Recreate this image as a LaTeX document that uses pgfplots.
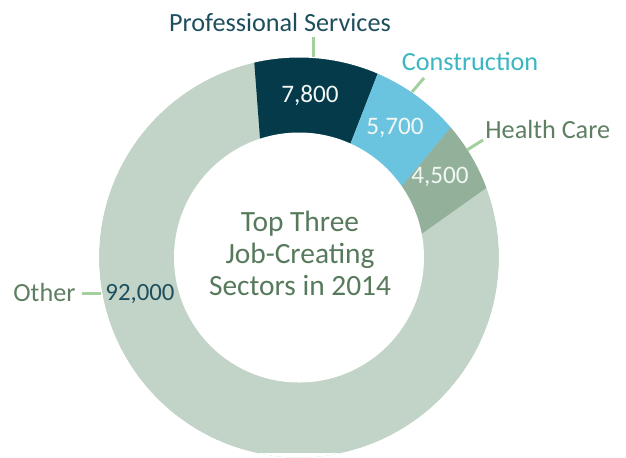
\documentclass[border=0pt]{standalone}
\usepackage{pgfplots}
\pgfplotsset{compat=1.18}
\usepackage{fontspec}
\setmainfont{Carlito}
\definecolor{cProf}{HTML}{053A4B}
\definecolor{cCons}{HTML}{6AC4E0}
\definecolor{cHealth}{HTML}{93B09A}
\definecolor{cOther}{HTML}{C2D4C7}
\definecolor{cLead}{HTML}{A6CFA0}
\definecolor{tProf}{HTML}{1E4F5E}
\definecolor{tCons}{HTML}{3AB7C3}
\definecolor{tGreen}{HTML}{5F7F63}
\definecolor{tCenter}{HTML}{587A5C}
\definecolor{tNum}{HTML}{F2F7F3}
\begin{document}
\begin{tikzpicture}
\begin{axis}[scale only axis, width=313pt, height=226.5pt,
  xmin=0, xmax=626, ymin=0, ymax=453, axis lines=none, clip=false]
% full ring disc (Other)
\fill[cOther] (axis cs:299,195.5) circle[radius=100pt];
% wedges: value / colour, total = 110000 (7800+5700+4500+92000)
\xdef\a{94.3}
\foreach \v/\c in {7800/cProf,5700/cCons,4500/cHealth}{
  \pgfmathsetmacro\b{\a-\v/110*0.36}
  \edef\tmp{\noexpand\fill[\c] (axis cs:275,115) -- ++(\a:145pt) arc[start angle=\a, end angle=\b, radius=145pt] -- cycle;}
  \tmp
  \xdef\a{\b}
}
% mask outside the ring and the hole
\fill[white,even odd rule] (axis cs:0,0) rectangle (axis cs:626,453) (axis cs:299,195.5) circle[radius=100pt];
\fill[white] (axis cs:299,195.5) circle[radius=62.5pt];
% leader lines
\draw[cLead, line width=1.5pt] (axis cs:313,416) -- (axis cs:313,396);
\draw[cLead, line width=1.5pt] (axis cs:424,375) -- (axis cs:412,361);
\draw[cLead, line width=1.5pt] (axis cs:483,313) -- (axis cs:467,303);
\draw[cLead, line width=1.5pt] (axis cs:82,160) -- (axis cs:101,160);
% labels
\node[anchor=base, text=tProf, font=\fontsize{13.1pt}{15pt}\selectfont, inner sep=0pt] at (axis cs:280,422) {Professional Services};
\node[anchor=base, text=tCons, font=\fontsize{13.1pt}{15pt}\selectfont, inner sep=0pt] at (axis cs:470,382.3) {Construction};
\node[anchor=base west, text=tGreen, font=\fontsize{13.1pt}{15pt}\selectfont, inner sep=0pt] at (axis cs:485,315) {Health Care};
\node[anchor=base west, text=tGreen, font=\fontsize{13.1pt}{15pt}\selectfont, inner sep=0pt] at (axis cs:13,152) {Other};
% values
\node[anchor=base, text=tNum, font=\fontsize{12.6pt}{14pt}\selectfont, inner sep=0pt] at (axis cs:310,351) {7,800};
\node[anchor=base, text=tNum, font=\fontsize{12.6pt}{14pt}\selectfont, inner sep=0pt] at (axis cs:395,319) {5,700};
\node[anchor=base, text=tNum, font=\fontsize{12.6pt}{14pt}\selectfont, inner sep=0pt] at (axis cs:440,270) {4,500};
\node[anchor=base, text=tProf, font=\fontsize{12.4pt}{14pt}\selectfont, inner sep=0pt] at (axis cs:140,153) {92,000};
% centre text
\node[anchor=base, text=tCenter, font=\fontsize{14.7pt}{16pt}\selectfont, inner sep=0pt] at (axis cs:300,222) {Top Three};
\node[anchor=base, text=tCenter, font=\fontsize{14.7pt}{16pt}\selectfont, inner sep=0pt] at (axis cs:300,190) {Job-Creating};
\node[anchor=base, text=tCenter, font=\fontsize{14.7pt}{16pt}\selectfont, inner sep=0pt] at (axis cs:300,158) {Sectors in 2014};
\end{axis}
\end{tikzpicture}
\end{document}
